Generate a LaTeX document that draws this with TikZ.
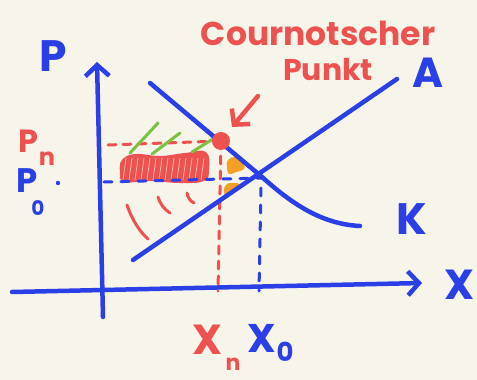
\documentclass[tikz,border=0pt]{standalone}
\usepackage{fontspec}
\setmainfont{Poppins}
\usetikzlibrary{arrows.meta}
\definecolor{bg}{HTML}{F7F4EA}
\definecolor{pblue}{HTML}{2A3FE6}
\definecolor{pred}{HTML}{EE5250}
\definecolor{pgreen}{HTML}{7CC242}
\definecolor{porange}{HTML}{F4A024}
\tikzset{
  ink/.style={line width=4.5pt, line cap=round, line join=round},
  blueink/.style={ink, draw=pblue},
  redink/.style={ink, draw=pred},
  bluedash/.style={draw=pblue, line width=3pt, line cap=round, dash pattern=on 8pt off 9pt},
  reddash/.style={draw=pred, line width=3pt, line cap=round, dash pattern=on 8pt off 7pt},
  lbl/.style={inner sep=0pt, font=\bfseries\fontsize{#1}{#1}\selectfont},
  barb/.style={-{Straight Barb[length=11pt,width=24pt,line width=4.5pt]}}
}
\begin{document}
\begin{tikzpicture}[x=1pt,y=-1pt]
\fill[bg] (0,0) rectangle (477,380);
\useasboundingbox (0,0) rectangle (477,380);

% coordinates
\coordinate (yb) at (103,317);
\coordinate (yt) at (97,62);
\coordinate (xl) at (12,292);
\coordinate (xr) at (422,283);
\coordinate (d0) at (150,83);
\coordinate (d1) at (262,177);
\coordinate (d2) at (360,226);
\coordinate (s0) at (133,260);
\coordinate (s1) at (397,79);
\coordinate (cp) at (221,141);
\coordinate (eq) at (262,178);
\coordinate (pmL) at (108,145);
\coordinate (xmB) at (218,291);
\coordinate (p0L) at (104,182);
\coordinate (x0T) at (261,188);
\coordinate (x0B) at (259,291);
\coordinate (arS) at (258,96);
\coordinate (arE) at (232,127);

% red hatching (monopoly rent)
\fill[pred] plot[smooth cycle, tension=0.7] coordinates {(122,160) (135,154) (160,156) (185,153) (206,152) (209,170) (204,181) (180,183) (150,181) (124,182) (120,172)};
\foreach \x in {124,130,...,206} {
  \draw[bg!60!pred, line width=0.8pt] (\x+2,158) -- (\x-1,180);
}

% blue dashed lines for competitive equilibrium
\draw[bluedash] (p0L) -- (eq);
\draw[bluedash] (x0T) -- (x0B);
\fill[pblue] (58,183) circle (2.2pt);

% red dashed lines for Cournot point
\draw[reddash] (pmL) -- (cp);
\draw[reddash] (cp) -- (xmB);

% green strokes
\draw[pgreen, line width=3pt, line cap=round] (130,153) -- (158,123);
\draw[pgreen, line width=3pt, line cap=round] (152,154) -- (180,133);
\draw[pgreen, line width=3pt, line cap=round] (192,152) -- (216,137);

% red dashed arcs
\draw[pred, line width=3pt, line cap=round] (127,205) .. controls (132,220) and (140,232) .. (148,239);
\draw[pred, line width=3pt, line cap=round] (158,197) .. controls (160,204) and (164,209) .. (170,213);
\draw[pred, line width=3pt, line cap=round] (187,193) .. controls (188,198) and (190,201) .. (194,203);

% orange blobs
\fill[porange] plot[smooth cycle, tension=0.8] coordinates {(228,160) (236,157) (243,163) (244,169) (236,172) (229,174) (227,167)};
\fill[porange] plot[smooth cycle, tension=0.8] coordinates {(225,186) (232,183) (241,185) (236,190) (229,195) (225,196)};

% axes
\draw[blueink, barb] (yb) -- (yt);
\draw[blueink, barb] (xl) -- (xr);

% demand and supply curves
\draw[blueink] (d0) -- (d1) .. controls (290,202) and (320,224) .. (d2);
\draw[blueink] (s0) -- (s1);

% Cournot point
\fill[pred] (cp) circle (9pt);
\draw[redink, barb] (arS) -- (arE);

% labels
\node[lbl=44, text=pblue] (lP) at (53,56) {P};
\node[lbl=42, text=pblue] (lA) at (428,73) {A};
\node[lbl=44, text=pblue] (lK) at (412,219) {K};
\node[lbl=42, text=pblue] (lX) at (460,285) {X};
\node[lbl=32, text=pred] (lPm) at (28,141) {P};
\node[lbl=24, text=pred] (lPmi) at (47,159) {n};
\node[lbl=34, text=pblue] (lP0) at (27,181) {P};
\node[lbl=20, text=pblue] (lP0i) at (38,208) {0};
\node[lbl=42, text=pred] (lXm) at (208,340) {X};
\node[lbl=22, text=pred] (lXmi) at (233,364) {n};
\node[lbl=40, text=pblue] (lX0) at (262,338) {X};
\node[lbl=26, text=pblue] (lX0i) at (285,352) {0};
\node[lbl=33, text=pred] (lC) at (318,33) {Cournotscher};
\node[lbl=30, text=pred] (lPk) at (328,69) {Punkt};
\end{tikzpicture}
\end{document}
